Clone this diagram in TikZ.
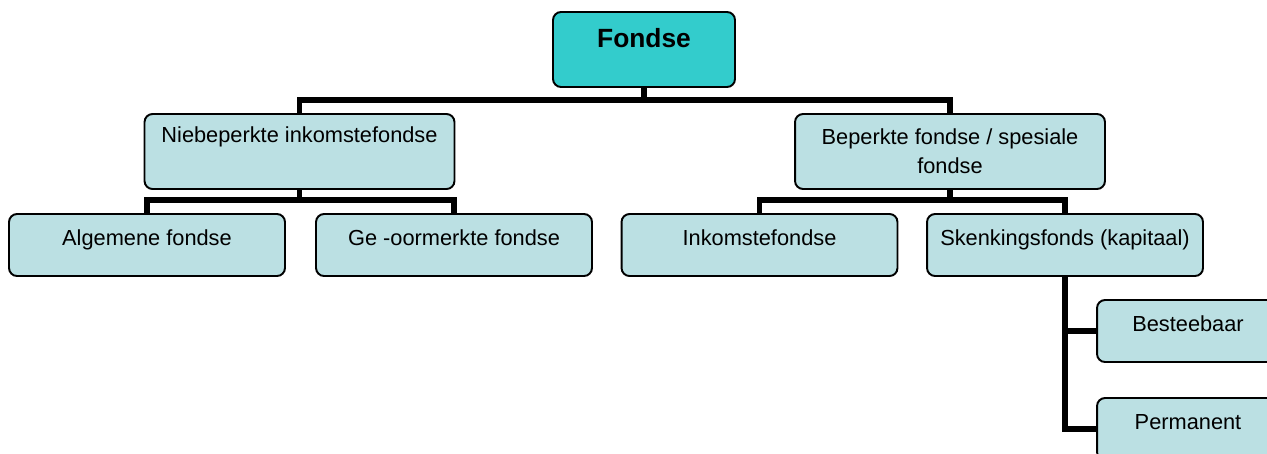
\documentclass[tikz,border=0pt]{standalone}
\usepackage{fontspec}
\setmainfont{Liberation Sans}
\usetikzlibrary{positioning}
\definecolor{fundblue}{HTML}{BBE0E3}
\definecolor{fundteal}{HTML}{33CCCC}

\begin{document}
\begin{tikzpicture}[x=0.02cm, y=-0.02cm,
    fund/.style={draw, line width=1.1pt, rounded corners=0.16cm, fill=fundblue,
        font=\fontsize{12.4}{16.5}\selectfont, inner sep=0pt, align=center},
    rootbox/.style={fund, fill=fundteal, font=\fontsize{15}{18}\bfseries,
        minimum width=3.64cm, minimum height=1.5cm, text height=0.7cm, text depth=0.8cm},
    midbox/.style={fund, minimum width=6.2cm, minimum height=1.5cm},
    leafbox/.style={fund, minimum width=5.52cm, minimum height=1.24cm,
        text height=0.62cm, text depth=0.62cm},
    endbox/.style={leafbox, minimum width=3.64cm},
    link/.style={line width=3.4pt}]
    \clip (0,0) rectangle (1267,453);

    % Root
    \node[rootbox] (root) at (644,49.5) {Fondse};

    % First level
    \node[midbox, text height=0.57cm, text depth=0.93cm] (unres) at (299.5,151.5) {Niebeperkte inkomstefondse};
    \node[midbox] (restr) at (950,151.5) {Beperkte fondse / spesiale\\fondse};

    % Second level
    \node[leafbox] (general) at (147,245) {Algemene fondse};
    \node[leafbox] (earmark) at (454,245) {Ge -oormerkte fondse};
    \node[leafbox] (income) at (759.5,245) {Inkomstefondse};
    \node[leafbox] (endow) at (1065,245) {Skenkingsfonds (kapitaal)};

    % Third level
    \node[endbox] (spend) at (1188,331) {Besteebaar};
    \node[endbox] (perm) at (1188,429) {Permanent};

    % Bars
    \coordinate (barA) at (0,100);
    \coordinate (barB) at (0,200);
    \draw[link] (root.south) -- (root.south |- barA);
    \draw[link] (unres.north) |- (root.south |- barA) -| (restr.north);
    \draw[link] (unres.south) -- (unres.south |- barB);
    \draw[link] (general.north) |- (unres.south |- barB) -| (earmark.north);
    \draw[link] (restr.south) -- (restr.south |- barB);
    \draw[link] (income.north) |- (restr.south |- barB) -| (endow.north);
    \draw[link] (endow.south) |- (spend.west);
    \draw[link] (endow.south) |- (perm.west);
\end{tikzpicture}
\end{document}
